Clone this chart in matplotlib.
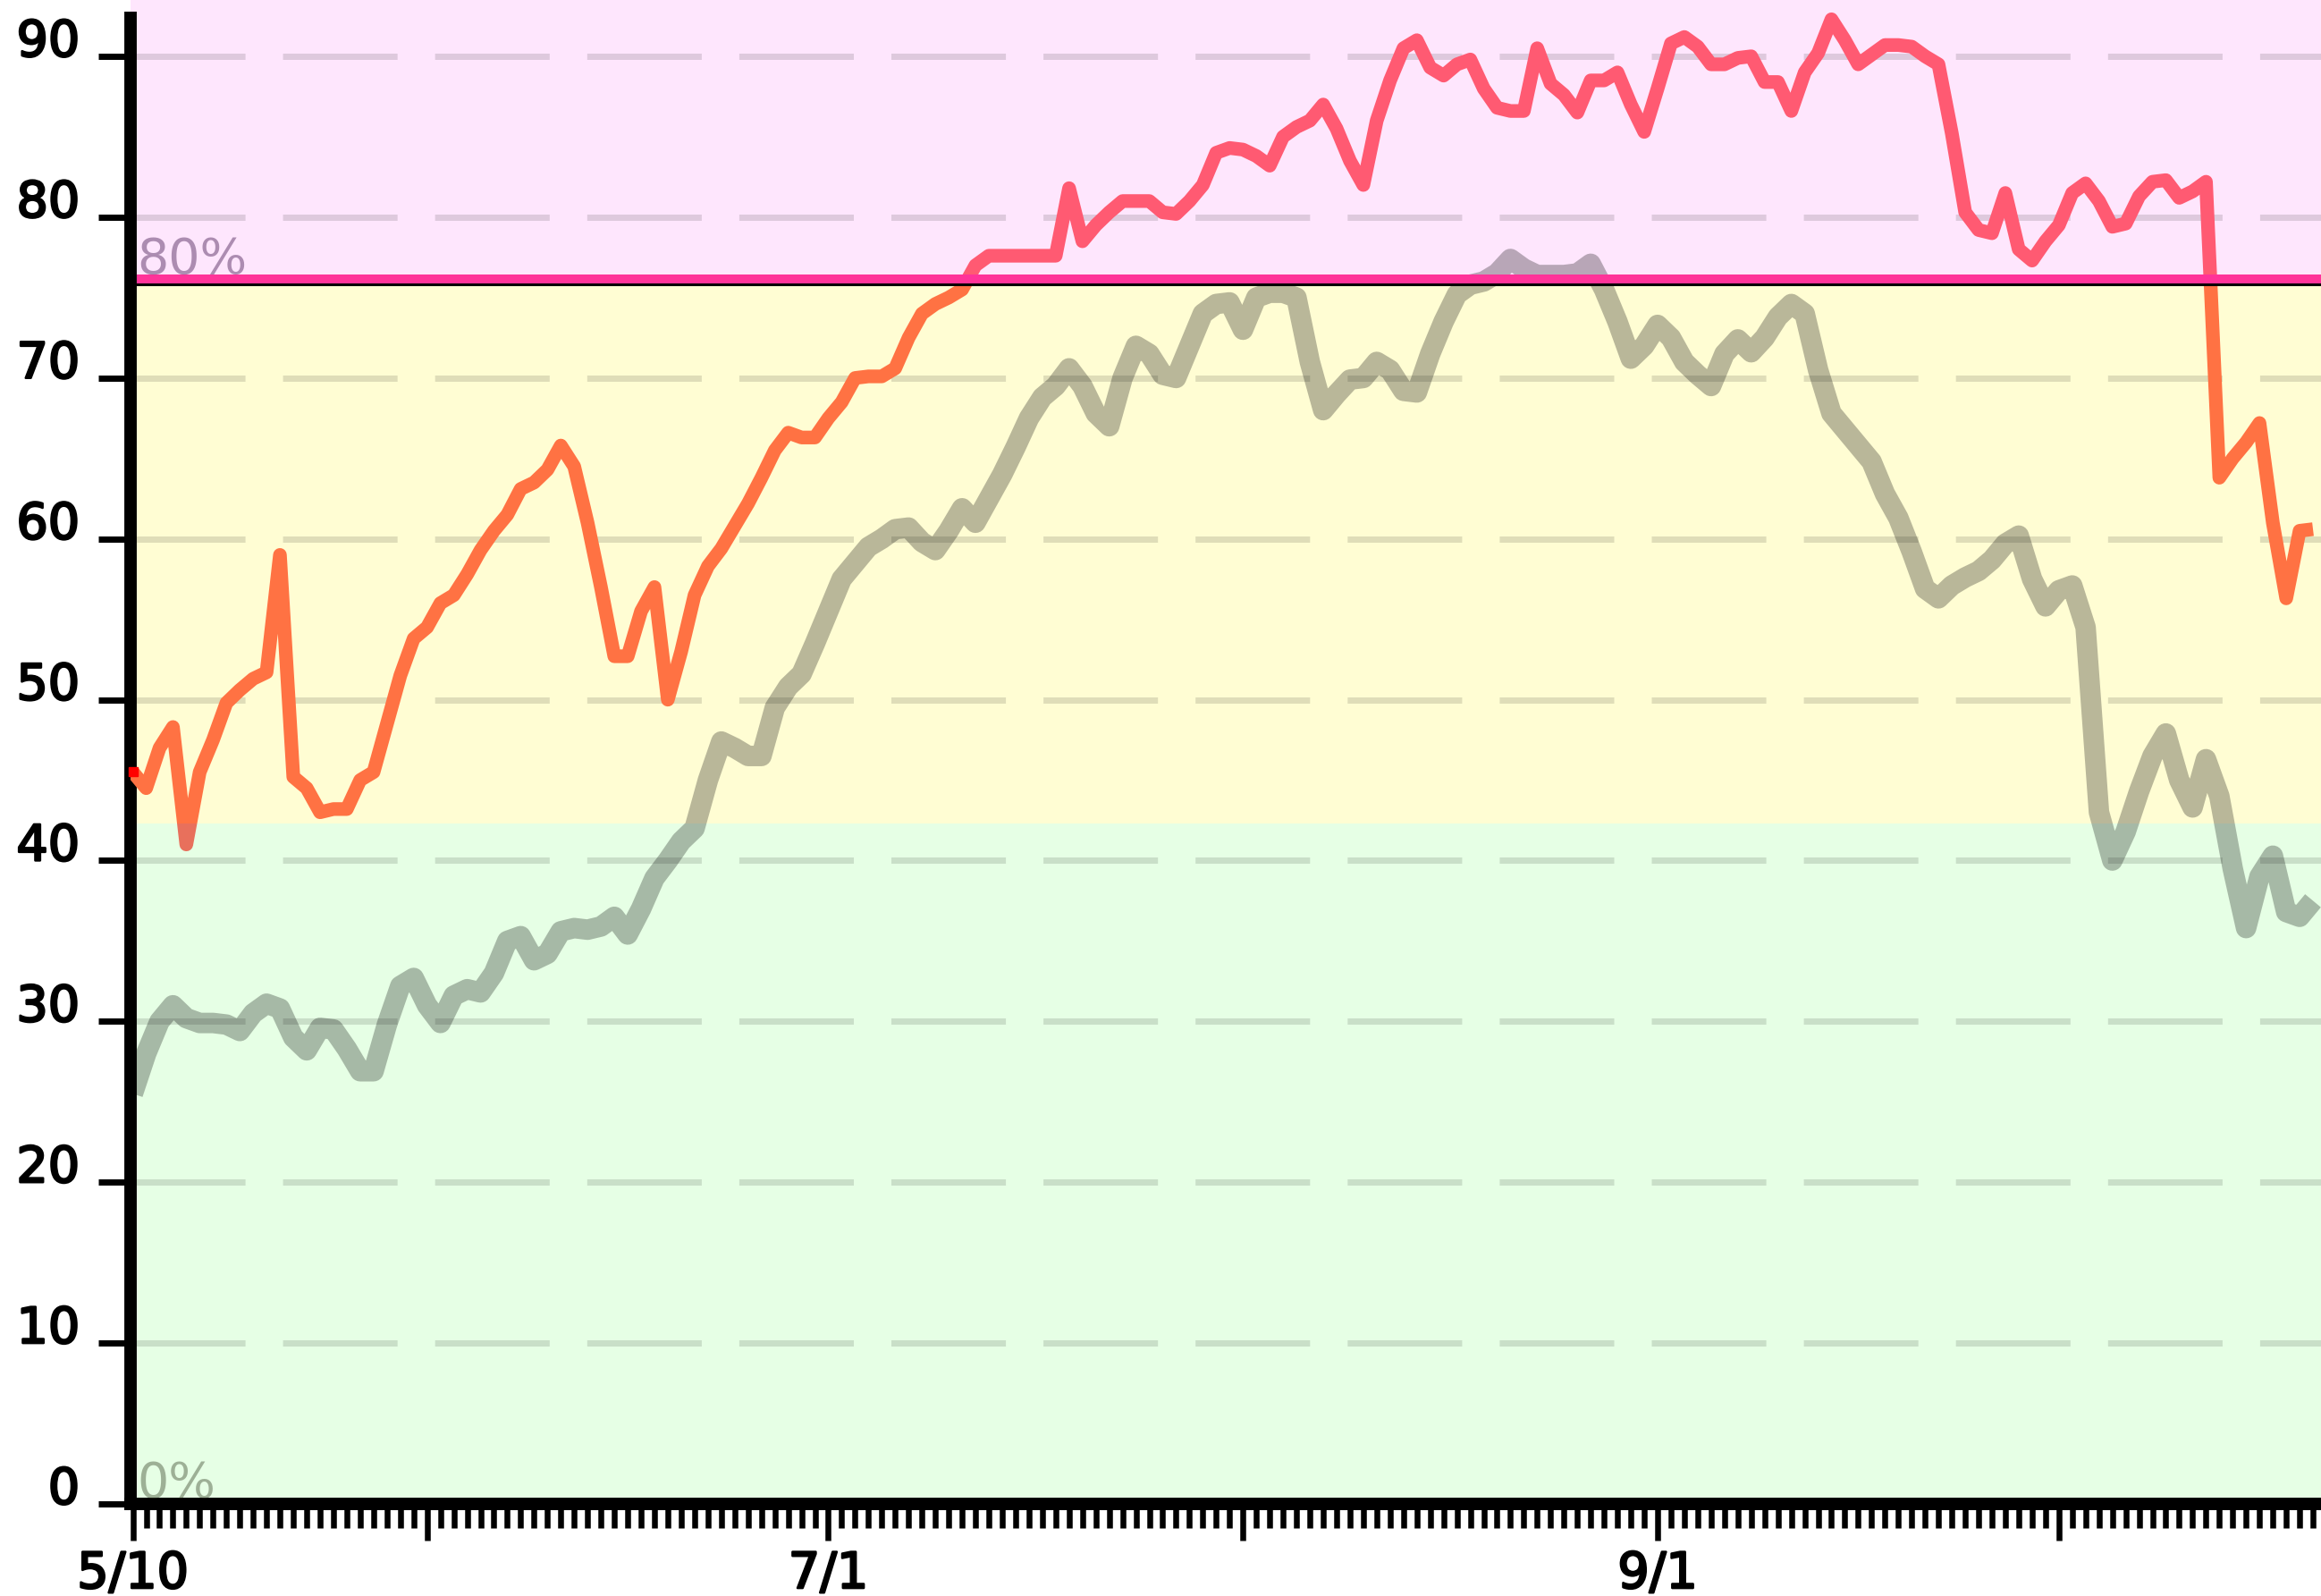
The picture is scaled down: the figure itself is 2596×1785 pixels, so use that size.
import numpy as np
import pandas as pd
import matplotlib
matplotlib.use('Agg')
import matplotlib.pyplot as plt
import matplotlib.dates as mdates
import matplotlib.ticker as mticker
import matplotlib.transforms as mtransforms
import matplotlib.patheffects as pe
from matplotlib.patches import Rectangle

# daily values from 5/10
dates = pd.date_range('2020-05-10', periods=164, freq='D')

score = [
    45.5, 44.5, 47.0, 48.3, 41.0, 45.5, 47.5, 49.8, 50.6, 51.3,
    51.7, 59.0, 45.2, 44.5, 43.0, 43.2, 43.2, 45.0, 45.5, 48.5,
    51.5, 53.8, 54.5, 56.0, 56.5, 57.8, 59.3, 60.5, 61.5, 63.1,
    63.5, 64.3, 65.8, 64.5, 61.0, 57.0, 52.7, 52.7, 55.5, 57.0,
    50.0, 53.0, 56.5, 58.3, 59.4, 60.8, 62.2, 63.8, 65.5, 66.6,
    66.3, 66.3, 67.5, 68.5, 70.0, 70.1, 70.1, 70.6, 72.5, 74.0,
    74.6, 75.0, 75.5, 77.0, 77.6, 77.6, 77.6, 77.6, 77.6, 77.6,
    81.8, 78.5, 79.5, 80.3, 81.0, 81.0, 81.0, 80.3, 80.2, 81.0,
    82.0, 84.0, 84.3, 84.2, 83.8, 83.2, 85.0, 85.6, 86.0, 87.0,
    85.5, 83.5, 82.0, 86.0, 88.5, 90.5, 91.0, 89.3, 88.8, 89.5,
    89.8, 88.0, 86.8, 86.6, 86.6, 90.5, 88.3, 87.6, 86.5, 88.5,
    88.5, 89.0, 87.0, 85.3, 88.0, 90.8, 91.2, 90.6, 89.5, 89.5,
    89.9, 90.0, 88.4, 88.4, 86.6, 89.0, 90.2, 92.3, 91.0, 89.5,
    90.1, 90.7, 90.7, 90.6, 90.0, 89.5, 85.2, 80.3, 79.2, 79.0,
    81.5, 78.0, 77.3, 78.5, 79.5, 81.5, 82.1, 81.0, 79.4, 79.6,
    81.3, 82.2, 82.3, 81.2, 81.6, 82.2, 63.8, 65.0, 66.0, 67.2,
    61.0, 56.3, 60.5, 60.6,
]

average = [
    25.5, 28.0, 30.0, 31.0, 30.2, 29.9, 29.9, 29.8, 29.4, 30.5,
    31.1, 30.8, 29.0, 28.2, 29.6, 29.5, 28.3, 26.9, 26.9, 29.8,
    32.2, 32.7, 31.0, 29.9, 31.6, 32.0, 31.8, 33.0, 35.0, 35.3,
    33.8, 34.2, 35.6, 35.8, 35.7, 35.9, 36.5, 35.4, 37.0, 38.9,
    40.0, 41.2, 42.0, 45.0, 47.4, 47.0, 46.5, 46.5, 49.5, 50.8,
    51.6, 53.5, 55.5, 57.5, 58.5, 59.5, 60.0, 60.6, 60.7, 59.8,
    59.3, 60.5, 61.9, 61.0, 62.5, 64.0, 65.7, 67.5, 68.8, 69.5,
    70.6, 69.5, 67.8, 67.0, 70.0, 72.0, 71.5, 70.2, 70.0, 72.0,
    74.0, 74.6, 74.7, 73.0, 75.0, 75.3, 75.3, 75.0, 71.0, 68.0,
    69.0, 69.9, 70.0, 71.0, 70.5, 69.2, 69.1, 71.5, 73.5, 75.2,
    75.8, 76.0, 76.5, 77.4, 76.8, 76.4, 76.4, 76.4, 76.5, 77.1,
    75.5, 73.5, 71.2, 72.0, 73.3, 72.5, 71.0, 70.2, 69.5, 71.5,
    72.4, 71.6, 72.5, 73.8, 74.6, 74.0, 70.5, 67.8, 66.8, 65.8,
    64.8, 62.8, 61.3, 59.2, 56.9, 56.3, 57.1, 57.6, 58.0, 58.7,
    59.7, 60.2, 57.5, 55.8, 56.8, 57.1, 54.5, 43.0, 40.0, 41.8,
    44.3, 46.5, 47.9, 45.0, 43.3, 46.3, 44.0, 39.5, 35.8, 39.0,
    40.3, 36.8, 36.5, 37.5,
]

# percentile bands: 0% .. low .. 80% .. top
band_edges = [0, 42.3, 75.8, 100]
band_colors = ['#e6ffe5', '#fffdd3', '#fee6fd']
score_colors = ['#e8705c', '#ff7243', '#ff5a72']
p80 = band_edges[2]

yticks = [0, 10, 20, 30, 40, 50, 60, 70, 80, 90]
major_dates = ['2020-05-10', '2020-06-01', '2020-07-01', '2020-08-01', '2020-09-01', '2020-10-01']
major_labels = ['5/10', '', '7/1', '', '9/1', '']

W, H = 2596, 1785
fig = plt.figure(figsize=(W / 100, H / 100), dpi=100)
ax = fig.add_axes([146 / W, 103 / H, 1 - 146 / W, 1 - 103 / H])

d0 = mdates.date2num(dates[0])
ax.set_xlim(d0 - 0.17, d0 + 163.6)
ax.set_ylim(0, 93.5)

blend = mtransforms.blended_transform_factory(ax.transAxes, ax.transData)

# background bands
for i in range(3):
    ax.axhspan(band_edges[i], band_edges[i + 1], color=band_colors[i], lw=0, zorder=0.1)

# dashed grid
ax.set_axisbelow(True)
ax.grid(axis='y', color='black', alpha=0.125, linewidth=5.04, linestyle=(0, (18.3, 6)))
ax.grid(axis='x', visible=False)

# thick translucent average line
ax.plot(dates, average, color='black', alpha=0.275, lw=16.5, zorder=3,
        solid_joinstyle='round', solid_capstyle='butt')

# score line, coloured by band
for i in range(3):
    ln, = ax.plot(dates, score, color=score_colors[i], lw=11, zorder=4,
                  solid_joinstyle='round', solid_capstyle='butt')
    clip = Rectangle((0, band_edges[i]), 1, band_edges[i + 1] - band_edges[i], transform=blend)
    ln.set_clip_path(clip)
# red stub at the first point
ax.plot(dates[:1], score[:1], marker='s', ms=7, color='#ff0000', lw=0, zorder=6, clip_on=False)

# 80% threshold line
ax.plot([0, 1], [p80, p80], color='black', lw=2.2, transform=blend, zorder=5)
up = blend + mtransforms.ScaledTranslation(0, 6.5 / 100, fig.dpi_scale_trans)
ax.plot([0.003, 1], [p80, p80], color='#ff3399', lw=7.2, transform=up, zorder=5,
        solid_capstyle='butt')

# percentile labels
ax.text(0, p80, '80%', fontsize=40, color='#4a1f55', alpha=0.45, ha='left', va='baseline',
        transform=blend + mtransforms.ScaledTranslation(7 / 100, 13 / 100, fig.dpi_scale_trans),
        zorder=6)
ax.text(0, band_edges[0], '0%', fontsize=40, color='#303a20', alpha=0.4, ha='left', va='baseline',
        transform=blend + mtransforms.ScaledTranslation(7 / 100, 7 / 100, fig.dpi_scale_trans),
        zorder=6)

# axes styling
for s in ['top', 'right']:
    ax.spines[s].set_visible(False)
for s in ['left', 'bottom']:
    ax.spines[s].set_linewidth(10)
    ax.spines[s].set_zorder(2.5)
ax.spines['left'].set_bounds(0, 92.4)

ax.set_yticks(yticks)
ax.set_yticklabels([str(v) for v in yticks])
ax.tick_params(axis='y', length=26, width=5, pad=15, labelsize=40, colors='black')
for lbl in ax.get_yticklabels():
    lbl.set_verticalalignment('baseline')

ax.xaxis.set_major_locator(mticker.FixedLocator(
    [mdates.date2num(pd.Timestamp(d)) for d in major_dates]))
ax.xaxis.set_major_formatter(mticker.FixedFormatter(major_labels))
ax.xaxis.set_minor_locator(mdates.DayLocator())
ax.tick_params(axis='x', which='major', length=29.5, width=4.7, pad=8, labelsize=40)
ax.tick_params(axis='x', which='minor', length=19.4, width=4.7)

# slightly heavier tick text, like the small bitmap font of the original
for lbl in ax.get_yticklabels() + ax.get_xticklabels():
    lbl.set_path_effects([pe.withStroke(linewidth=1.8, foreground='black')])

fig.savefig('out.png', dpi=100)
